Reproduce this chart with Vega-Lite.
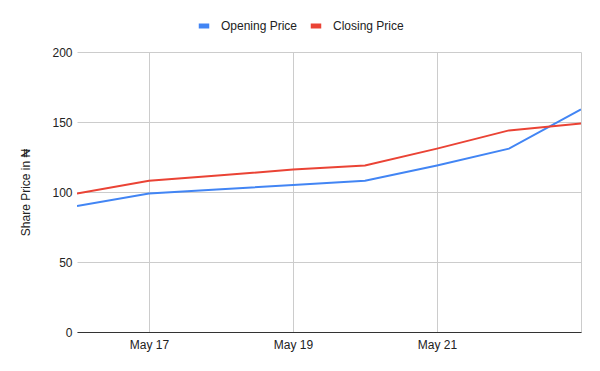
{
  "$schema": "https://vega.github.io/schema/vega-lite/v6.json",
  "width": 504,
  "height": 280,
  "autosize": {"type": "none"},
  "padding": {"left": 77, "top": 52, "right": 19, "bottom": 39},
  "background": "white",
  "config": {
    "view": {"stroke": null},
    "font": "Liberation Sans"
  },
  "data": {
    "values": [
      {"date": "2024-05-16", "series": "Opening Price", "price": 90},
      {"date": "2024-05-17", "series": "Opening Price", "price": 99},
      {"date": "2024-05-18", "series": "Opening Price", "price": 102},
      {"date": "2024-05-19", "series": "Opening Price", "price": 105},
      {"date": "2024-05-20", "series": "Opening Price", "price": 108},
      {"date": "2024-05-21", "series": "Opening Price", "price": 119},
      {"date": "2024-05-22", "series": "Opening Price", "price": 131},
      {"date": "2024-05-23", "series": "Opening Price", "price": 159},
      {"date": "2024-05-16", "series": "Closing Price", "price": 99},
      {"date": "2024-05-17", "series": "Closing Price", "price": 108},
      {"date": "2024-05-18", "series": "Closing Price", "price": 112},
      {"date": "2024-05-19", "series": "Closing Price", "price": 116},
      {"date": "2024-05-20", "series": "Closing Price", "price": 119},
      {"date": "2024-05-21", "series": "Closing Price", "price": 131},
      {"date": "2024-05-22", "series": "Closing Price", "price": 144},
      {"date": "2024-05-23", "series": "Closing Price", "price": 149}
    ]
  },
  "mark": {"type": "line", "strokeWidth": 2, "clip": true},
  "encoding": {
    "x": {
      "field": "date",
      "type": "temporal",
      "scale": {
        "type": "utc",
        "domain": [
          {"year": 2024, "month": 5, "date": 16, "utc": true},
          {"year": 2024, "month": 5, "date": 23, "utc": true}
        ]
      },
      "axis": {
        "title": null,
        "values": [
          {"year": 2024, "month": 5, "date": 17, "utc": true},
          {"year": 2024, "month": 5, "date": 19, "utc": true},
          {"year": 2024, "month": 5, "date": 21, "utc": true},
          {"year": 2024, "month": 5, "date": 23, "utc": true}
        ],
        "labelExpr": "utcdate(datum.value) == 23 ? '' : utcFormat(datum.value, '%b %d')",
        "grid": true,
        "gridColor": "#cccccc",
        "gridWidth": 1,
        "ticks": false,
        "domain": true,
        "domainColor": "#333333",
        "domainWidth": 1,
        "labelFontSize": 12,
        "labelColor": "#222222",
        "labelPadding": 7,
        "labelFlush": false,
        "labelOverlap": false
      }
    },
    "y": {
      "field": "price",
      "type": "quantitative",
      "scale": {"domain": [0, 200], "nice": false, "zero": true},
      "axis": {
        "title": "Share Price in ₦",
        "titleFontSize": 12,
        "titleFontWeight": "normal",
        "titleColor": "#222222",
        "titlePadding": 19,
        "values": [0, 50, 100, 150, 200],
        "grid": true,
        "gridColor": "#cccccc",
        "ticks": false,
        "domain": false,
        "labelFontSize": 12,
        "labelColor": "#222222",
        "labelPadding": 5
      }
    },
    "color": {
      "field": "series",
      "type": "nominal",
      "scale": {
        "domain": ["Opening Price", "Closing Price"],
        "range": ["#4285F4", "#EA4335"]
      },
      "legend": {
        "title": null,
        "orient": "none",
        "direction": "horizontal",
        "legendX": 119,
        "legendY": -34,
        "symbolType": "stroke",
        "symbolStrokeWidth": 5,
        "symbolSize": 110,
        "labelFontSize": 12,
        "labelColor": "#222222",
        "columnPadding": 2,
        "labelOffset": 9
      }
    }
  }
}
